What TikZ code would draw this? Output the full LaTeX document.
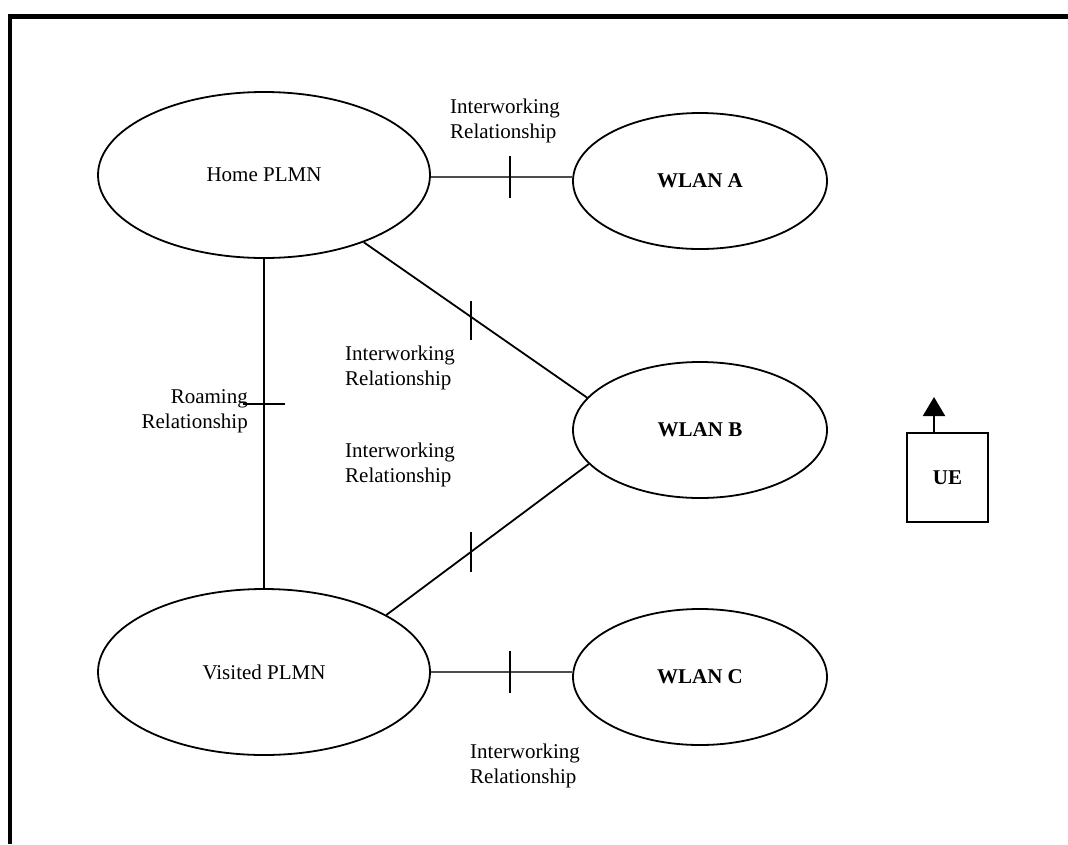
\documentclass[tikz,border=0pt]{standalone}
\usepackage{fontspec}
\setmainfont{Liberation Serif}
\usetikzlibrary{shapes.geometric,arrows.meta}
\begin{document}
\begin{tikzpicture}[x=1pt,y=-1pt,
  every node/.style={font=\fontsize{21}{25}\selectfont},
  net/.style={draw, ellipse, line width=1.8pt, inner sep=0pt},
  plmn/.style={net, minimum width=332pt, minimum height=166pt},
  wlan/.style={net, minimum width=254pt, minimum height=136pt, font=\fontsize{21}{25}\selectfont\bfseries},
  link/.style={line width=1.8pt},
  graylink/.style={line width=2.2pt, black!70},
  tick/.style={line width=1.5pt},
  lbl/.style={align=left, inner sep=0pt, anchor=west},
]
\useasboundingbox (0,0) rectangle (1068,844);
% frame
\draw[line width=4.5pt] (10,844) -- (10,16.5) -- (1068,16.5);

% networks
\node[plmn] (home) at (264,175) {Home PLMN};
\node[plmn] (visited) at (264,672) {Visited PLMN};
\node[wlan] (wlanA) at (700,181) {WLAN A};
\node[wlan] (wlanB) at (700,430) {WLAN B};
\node[wlan] (wlanC) at (700,677) {WLAN C};

% UE
\node[draw, line width=2pt, minimum width=81pt, minimum height=89pt, inner sep=0pt,
      font=\fontsize{21}{25}\selectfont\bfseries] (ue) at (947.5,477.5) {UE};
\coordinate (uebase) at ([xshift=-13.5pt]ue.north);
\coordinate (uetip) at ([xshift=-13.5pt,yshift=35pt]ue.north);
\draw[line width=2pt, -{Triangle[width=22pt,length=19pt]}] (uebase) -- (uetip);

% connectors
\draw[graylink] ([yshift=-2pt]home.east) -- coordinate[pos=0.56] (tA) ([yshift=-2pt]home.east -| wlanA.west);
\draw[tick] ([yshift=21pt]tA) -- ([yshift=-21pt]tA);

\draw[link] (home.-34) -- coordinate[pos=0.48] (tB1) (wlanB.164);
\draw[tick] ([yshift=16pt]tB1) -- ([yshift=-23pt]tB1);

\draw[link] (visited.25) -- coordinate[pos=0.417] (tB2) (wlanB.197);
\draw[tick] ([yshift=20pt]tB2) -- ([yshift=-20pt]tB2);

\draw[graylink] (visited.east) -- coordinate[pos=0.56] (tC) (visited.east -| wlanC.west);
\draw[tick] ([yshift=21pt]tC) -- ([yshift=-21pt]tC);

\draw[link] (home.south) -- coordinate[pos=0.44] (tR) (visited.north);
\draw[tick] ([xshift=-21pt]tR) -- ([xshift=21pt]tR);

% labels
\node[lbl] (lA) at (450,120.5) {Interworking\\Relationship};
\node[lbl] (lB1) at (345,367.5) {Interworking\\Relationship};
\node[lbl] (lB2) at (345,464.5) {Interworking\\Relationship};
\node[lbl] (lC) at (470,766) {Interworking\\Relationship};
\node[align=right, inner sep=0pt, anchor=east] (lR) at (248,411) {Roaming\\Relationship};
\end{tikzpicture}
\end{document}
